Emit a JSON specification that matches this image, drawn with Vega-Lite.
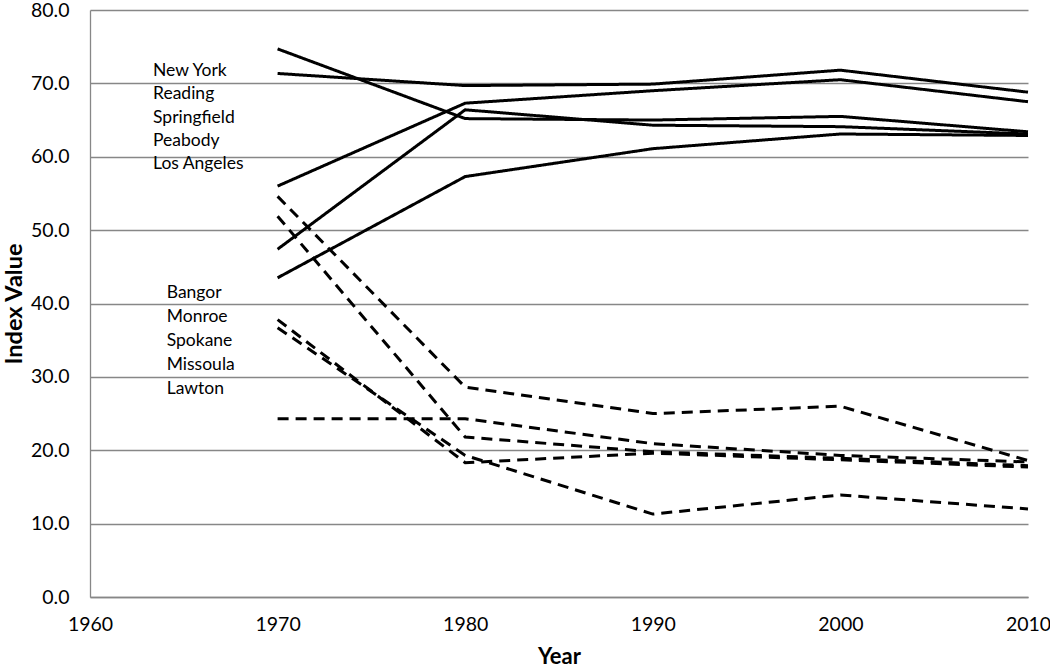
{
  "$schema": "https://vega.github.io/schema/vega-lite/v6.json",
  "width": 938,
  "height": 587,
  "autosize": {"type": "none"},
  "padding": {"left": 90, "top": 10, "right": 22, "bottom": 72},
  "background": "white",
  "config": {
    "font": "Lato",
    "view": {"stroke": null},
    "axis": {"labelFont": "Lato", "titleFont": "Lato", "labelColor": "#000000", "titleColor": "#000000"}
  },
  "datasets": {
    "series": [
      {"city": "New York", "group": "solid", "year": 1970, "value": 74.7},
      {"city": "New York", "group": "solid", "year": 1980, "value": 65.2},
      {"city": "New York", "group": "solid", "year": 1990, "value": 65.0},
      {"city": "New York", "group": "solid", "year": 2000, "value": 65.5},
      {"city": "New York", "group": "solid", "year": 2010, "value": 63.4},
      {"city": "Reading", "group": "solid", "year": 1970, "value": 71.35},
      {"city": "Reading", "group": "solid", "year": 1980, "value": 69.7},
      {"city": "Reading", "group": "solid", "year": 1990, "value": 69.9},
      {"city": "Reading", "group": "solid", "year": 2000, "value": 71.8},
      {"city": "Reading", "group": "solid", "year": 2010, "value": 68.8},
      {"city": "Springfield", "group": "solid", "year": 1970, "value": 56.0},
      {"city": "Springfield", "group": "solid", "year": 1980, "value": 67.3},
      {"city": "Springfield", "group": "solid", "year": 1990, "value": 69.0},
      {"city": "Springfield", "group": "solid", "year": 2000, "value": 70.5},
      {"city": "Springfield", "group": "solid", "year": 2010, "value": 67.5},
      {"city": "Peabody", "group": "solid", "year": 1970, "value": 47.4},
      {"city": "Peabody", "group": "solid", "year": 1980, "value": 66.4},
      {"city": "Peabody", "group": "solid", "year": 1990, "value": 64.3},
      {"city": "Peabody", "group": "solid", "year": 2000, "value": 64.1},
      {"city": "Peabody", "group": "solid", "year": 2010, "value": 63.1},
      {"city": "Los Angeles", "group": "solid", "year": 1970, "value": 43.5},
      {"city": "Los Angeles", "group": "solid", "year": 1980, "value": 57.3},
      {"city": "Los Angeles", "group": "solid", "year": 1990, "value": 61.1},
      {"city": "Los Angeles", "group": "solid", "year": 2000, "value": 63.1},
      {"city": "Los Angeles", "group": "solid", "year": 2010, "value": 62.9},
      {"city": "Bangor", "group": "dashed", "year": 1970, "value": 54.6},
      {"city": "Bangor", "group": "dashed", "year": 1980, "value": 28.6},
      {"city": "Bangor", "group": "dashed", "year": 1990, "value": 25.0},
      {"city": "Bangor", "group": "dashed", "year": 2000, "value": 26.0},
      {"city": "Bangor", "group": "dashed", "year": 2010, "value": 18.6},
      {"city": "Monroe", "group": "dashed", "year": 1970, "value": 51.9},
      {"city": "Monroe", "group": "dashed", "year": 1980, "value": 21.8},
      {"city": "Monroe", "group": "dashed", "year": 1990, "value": 19.8},
      {"city": "Monroe", "group": "dashed", "year": 2000, "value": 18.9},
      {"city": "Monroe", "group": "dashed", "year": 2010, "value": 17.9},
      {"city": "Spokane", "group": "dashed", "year": 1970, "value": 37.8},
      {"city": "Spokane", "group": "dashed", "year": 1980, "value": 18.3},
      {"city": "Spokane", "group": "dashed", "year": 1990, "value": 19.6},
      {"city": "Spokane", "group": "dashed", "year": 2000, "value": 18.7},
      {"city": "Spokane", "group": "dashed", "year": 2010, "value": 17.7},
      {"city": "Missoula", "group": "dashed", "year": 1970, "value": 36.7},
      {"city": "Missoula", "group": "dashed", "year": 1980, "value": 19.3},
      {"city": "Missoula", "group": "dashed", "year": 1990, "value": 11.3},
      {"city": "Missoula", "group": "dashed", "year": 2000, "value": 13.9},
      {"city": "Missoula", "group": "dashed", "year": 2010, "value": 12.0},
      {"city": "Lawton", "group": "dashed", "year": 1970, "value": 24.3},
      {"city": "Lawton", "group": "dashed", "year": 1980, "value": 24.3},
      {"city": "Lawton", "group": "dashed", "year": 1990, "value": 20.9},
      {"city": "Lawton", "group": "dashed", "year": 2000, "value": 19.3},
      {"city": "Lawton", "group": "dashed", "year": 2010, "value": 18.4}
    ],
    "labels": [
      {"label": "New York", "year": 1963.36, "value": 71.72},
      {"label": "Reading", "year": 1963.36, "value": 68.53},
      {"label": "Springfield", "year": 1963.36, "value": 65.34},
      {"label": "Peabody", "year": 1963.36, "value": 62.15},
      {"label": "Los Angeles", "year": 1963.36, "value": 58.96},
      {"label": "Bangor", "year": 1964.09, "value": 41.39},
      {"label": "Monroe", "year": 1964.09, "value": 38.13},
      {"label": "Spokane", "year": 1964.09, "value": 34.88},
      {"label": "Missoula", "year": 1964.09, "value": 31.62},
      {"label": "Lawton", "year": 1964.09, "value": 28.36}
    ]
  },
  "layer": [
    {
      "data": {"name": "series"},
      "mark": {"type": "line", "color": "#000000", "strokeWidth": 3, "strokeCap": "butt", "strokeJoin": "miter"},
      "encoding": {
        "x": {
          "field": "year", "type": "quantitative",
          "scale": {"domain": [1960, 2010], "nice": false, "zero": false},
          "axis": {
            "title": "Year", "values": [1960, 1970, 1980, 1990, 2000, 2010], "format": "d",
            "grid": false, "ticks": false, "domainColor": "#878787", "domainWidth": 1.3,
            "labelFontSize": 19.5, "labelPadding": 18, "labelFlush": false, "labelOverlap": false,
            "titleFontSize": 22, "titleFontWeight": "bold", "titleBaseline": "bottom", "titleY": 71
          }
        },
        "y": {
          "field": "value", "type": "quantitative",
          "scale": {"domain": [0, 80], "nice": false},
          "axis": {
            "title": "Index Value", "values": [0, 10, 20, 30, 40, 50, 60, 70, 80], "format": ".1f",
            "grid": true, "gridColor": "#878787", "gridWidth": 1.3,
            "ticks": false, "domainColor": "#878787", "domainWidth": 1.3,
            "labelFontSize": 19.5, "labelPadding": 21,
            "titleFontSize": 23.5, "titleFontWeight": "bold", "titleBaseline": "top", "titleX": -88
          }
        },
        "detail": {"field": "city"},
        "strokeDash": {
          "field": "group", "type": "nominal",
          "scale": {"domain": ["solid", "dashed"], "range": [[1, 0], [11, 7]]},
          "legend": null
        }
      }
    },
    {
      "data": {"name": "labels"},
      "mark": {"type": "text", "align": "left", "baseline": "middle", "fontSize": 17.5, "font": "Lato", "color": "#000000"},
      "encoding": {
        "x": {"field": "year", "type": "quantitative"},
        "y": {"field": "value", "type": "quantitative"},
        "text": {"field": "label"}
      }
    }
  ]
}
